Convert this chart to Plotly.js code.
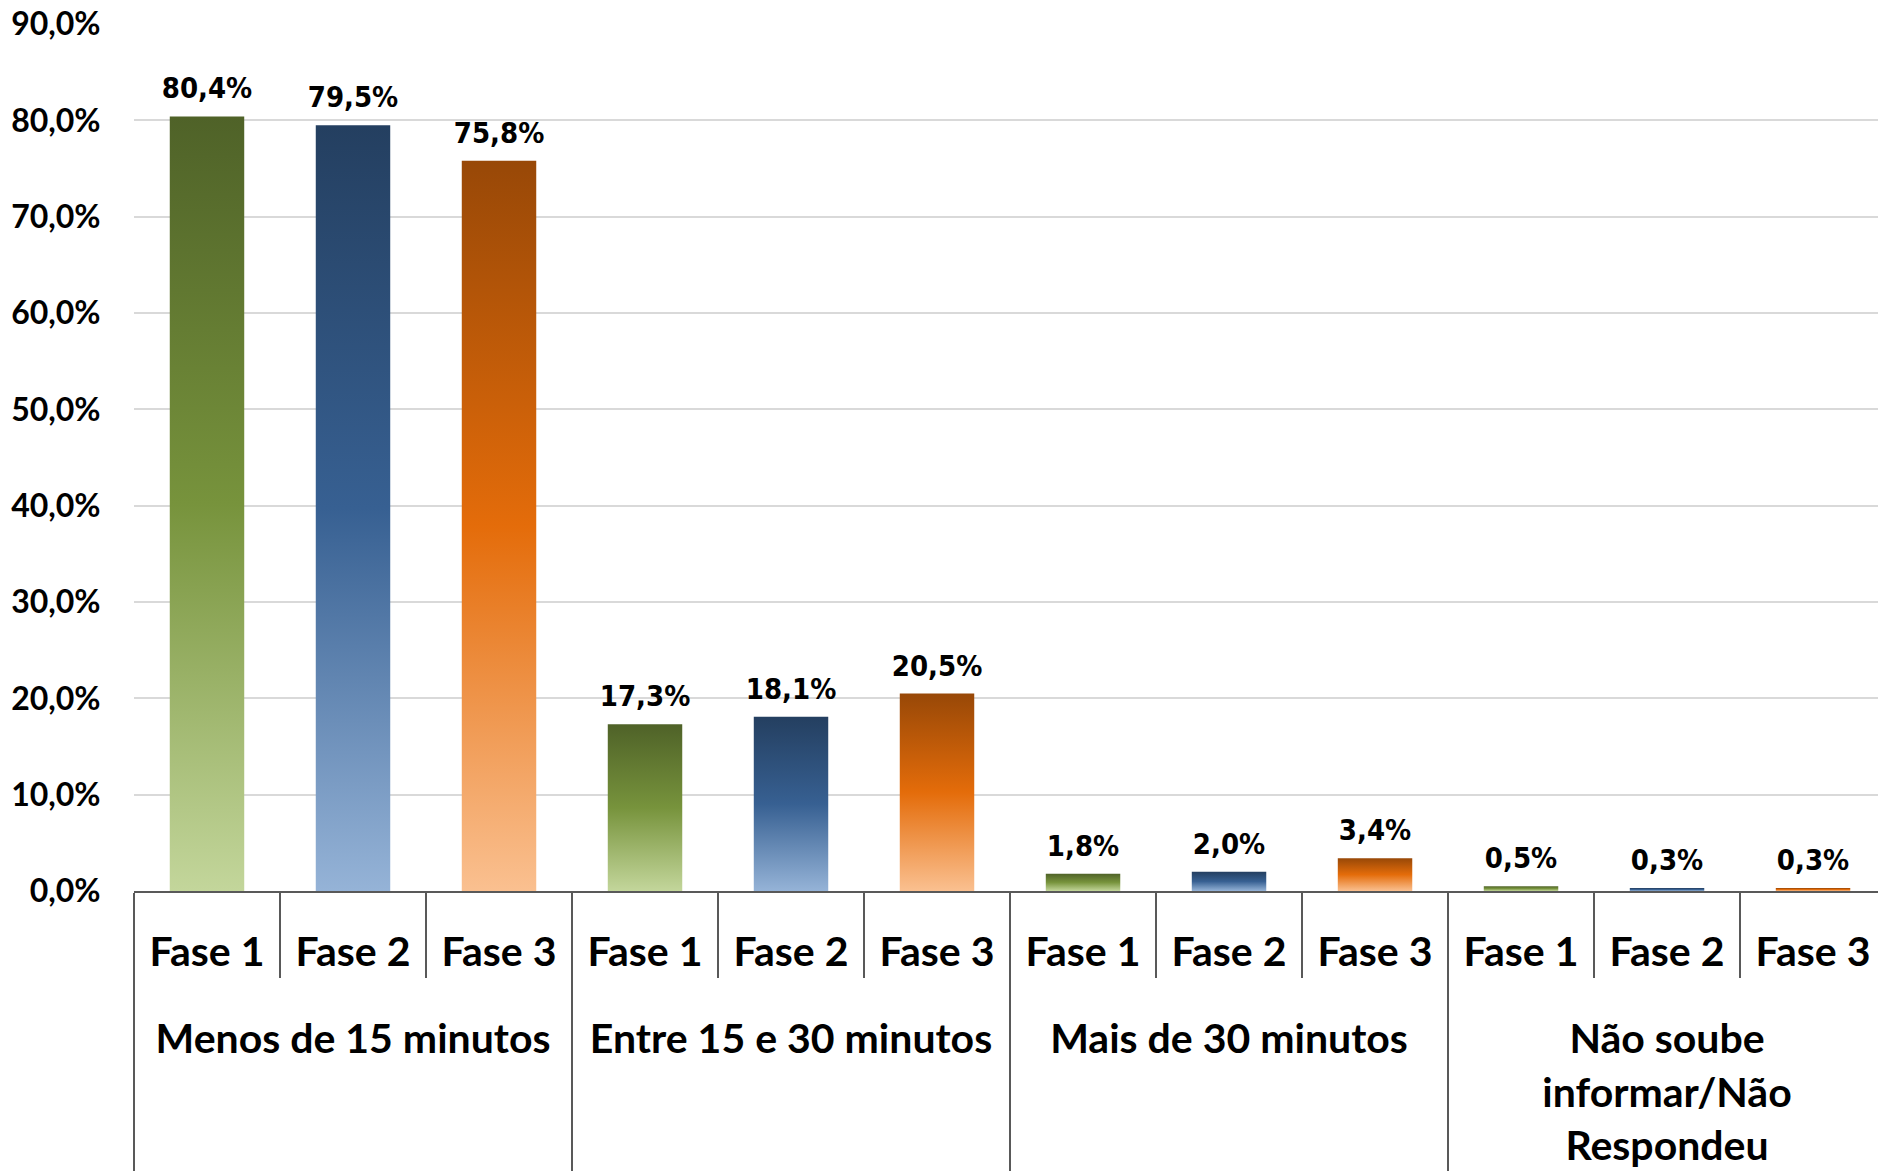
<!DOCTYPE html>
<html>
<head>
<meta charset="utf-8">
<script src="https://cdn.plot.ly/plotly-3.0.1.min.js"></script>
<style>
html,body{margin:0;padding:0;background:#fff;}
#chart{width:1878px;height:1171px;}
</style>
</head>
<body>
<div id="chart"></div>
<script>
// ---- data ----
const groups = ['Menos de 15 minutos', 'Entre 15 e 30 minutos', 'Mais de 30 minutos', 'Não soube<br>informar/Não<br>Respondeu'];
const phases = ['Fase 1', 'Fase 2', 'Fase 3'];
const fase1 = [80.4, 17.3, 1.8, 0.5];
const fase2 = [79.5, 18.1, 2.0, 0.3];
const fase3 = [75.8, 20.5, 3.4, 0.3];
const yTicks = [0, 10, 20, 30, 40, 50, 60, 70, 80, 90];
const yTickText = yTicks.map(v => v.toFixed(1).replace('.', ',') + '%');

// gradient colours per phase: top, middle, bottom
const gradients = [
  ['#4F6228', '#77933C', '#C3D69B'],
  ['#243F60', '#376092', '#95B3D7'],
  ['#984807', '#E46C0A', '#FAC090']
];
const series = [fase1, fase2, fase3];

const labelFont = {family: 'DejaVu Sans Condensed, DejaVu Sans, sans-serif', size: 29, color: '#000', weight: 'bold'};

const traces = series.map((vals, i) => ({
  type: 'bar',
  name: phases[i],
  x: [groups, groups.map(() => phases[i])],
  y: vals,
  width: 0.51,
  marker: {color: gradients[i][1], line: {width: 0}},
  texttemplate: '%{y:.1f}%',
  textposition: 'outside',
  constraintext: 'none',
  textfont: labelFont,
  cliponaxis: false,
  hoverinfo: 'skip'
}));

const layout = {
  width: 1878,
  height: 1171,
  margin: {l: 134, r: 0, t: 24, b: 280, pad: 0},
  paper_bgcolor: '#ffffff',
  plot_bgcolor: '#ffffff',
  separators: ',.',
  barmode: 'overlay',
  showlegend: false,
  font: {family: 'Lato, sans-serif', color: '#000'},
  xaxis: {
    type: 'multicategory',
    range: [-0.5, 11.445],
    showline: true,
    linecolor: '#595959',
    linewidth: 2,
    ticks: 'outside',
    tickson: 'boundaries',
    ticklen: 85,
    tickwidth: 2,
    tickcolor: '#595959',
    ticklabelstandoff: 24,
    showdividers: true,
    dividercolor: '#595959',
    dividerwidth: 2,
    showgrid: false,
    tickfont: {family: 'Lato, sans-serif', size: 41, color: '#000', weight: 'bold'}
  },
  yaxis: {
    range: [0, 90],
    tickvals: yTicks,
    ticktext: yTickText,
    showgrid: true,
    gridcolor: '#D9D9D9',
    gridwidth: 2,
    zeroline: false,
    showline: false,
    ticks: 'outside',
    ticklen: 26,
    tickcolor: 'rgba(0,0,0,0)',
    tickfont: {family: 'Lato, sans-serif', size: 32, color: '#000', weight: 'bold'}
  }
};

function addShift(el, dx, dy) {
  const suffix = ' translate(' + dx + ',' + dy + ')';
  const tf = el.getAttribute('transform') || '';
  if (!tf.endsWith(suffix)) el.setAttribute('transform', tf + suffix);
}

function applyStyling(gd) {
  const svg = gd.querySelector('.main-svg');
  if (!svg) return;
  let defs = svg.querySelector('defs');
  if (!defs) {
    defs = document.createElementNS('http://www.w3.org/2000/svg', 'defs');
    svg.insertBefore(defs, svg.firstChild);
  }
  gradients.forEach((g, i) => {
    const id = 'barGrad' + i;
    if (document.getElementById(id)) return;
    const lg = document.createElementNS('http://www.w3.org/2000/svg', 'linearGradient');
    lg.setAttribute('id', id);
    lg.setAttribute('x1', '0'); lg.setAttribute('y1', '0');
    lg.setAttribute('x2', '0'); lg.setAttribute('y2', '1');
    [[0, g[0]], [0.5, g[1]], [1, g[2]]].forEach(([o, c]) => {
      const s = document.createElementNS('http://www.w3.org/2000/svg', 'stop');
      s.setAttribute('offset', o);
      s.setAttribute('stop-color', c);
      lg.appendChild(s);
    });
    defs.appendChild(lg);
  });
  gd.querySelectorAll('.barlayer .trace.bars').forEach((tr, i) => {
    tr.querySelectorAll('.point path').forEach(p => { p.style.fill = 'url(#barGrad' + i + ')'; });
    tr.querySelectorAll('.bartext').forEach(t => addShift(t, 0, -8));
  });
  // move group (secondary) labels lower
  gd.querySelectorAll('.xtick2 text').forEach(t => addShift(t, 0, 60));
  // extend group dividers to the bottom of the figure
  gd.querySelectorAll('path.xdivider').forEach(p => {
    const d = p.getAttribute('d') || '';
    const nd = d.replace(/v[-\d.]+/, 'v400');
    if (nd !== d) p.setAttribute('d', nd);
  });
}

const gd = document.getElementById('chart');
Plotly.newPlot(gd, traces, layout, {displayModeBar: false, responsive: false}).then(() => {
  applyStyling(gd);
  gd.on('plotly_afterplot', () => applyStyling(gd));
});
</script>
</body>
</html>
